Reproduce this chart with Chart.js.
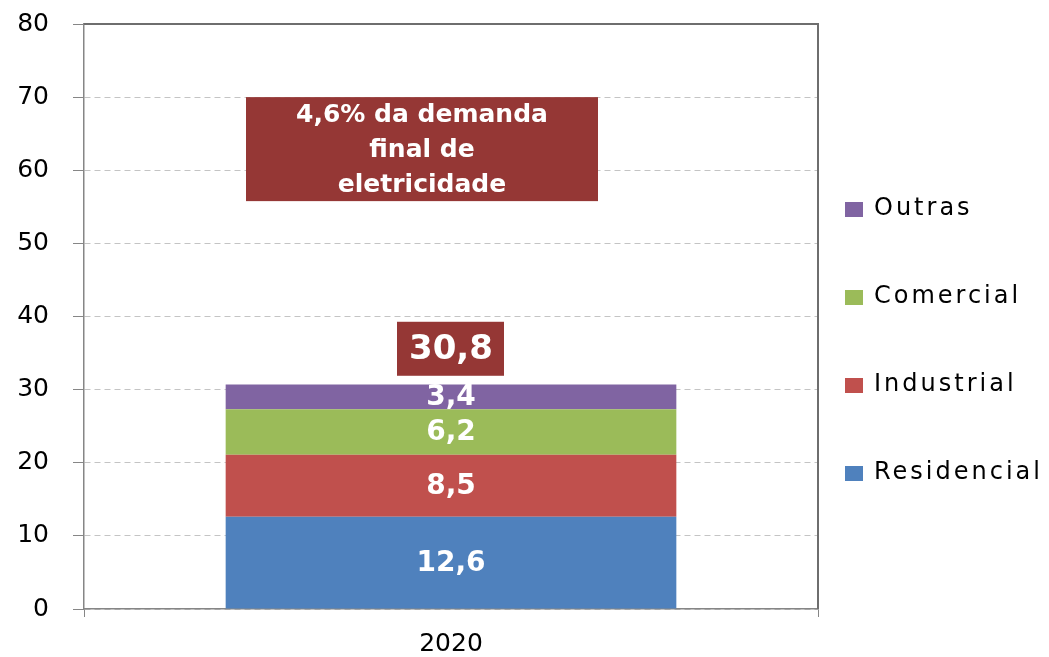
<!DOCTYPE html>
<html>
<head>
<meta charset="utf-8">
<script src="https://cdn.jsdelivr.net/npm/chart.js@4/dist/chart.umd.min.js"></script>
<style>
    html, body { margin: 0; padding: 0; background: #fff; }
    #wrap { width: 1049px; height: 657px; }
</style>
</head>
<body>
<div id="wrap"><canvas id="demandChart" width="1049" height="657"></canvas></div>
<script>
// Demanda de eletricidade por setor, 2020
const categories = ['2020'];
const residencial = [12.6];
const industrial = [8.5];
const comercial = [6.2];
const outras = [3.4];
const totals = [30.8];
const noteLines = ['4,6% da demanda', 'final de', 'eletricidade'];
const yMin = 0;
const yMax = 80;
const yStep = 10;

const fmt = v => v.toFixed(1).replace('.', ',');

// white value labels inside each stacked segment
const segmentLabels = {
    id: 'segmentLabels',
    afterDatasetsDraw(chart) {
        const ctx = chart.ctx;
        ctx.save();
        ctx.fillStyle = '#ffffff';
        ctx.font = 'bold 28px "DejaVu Sans"';
        ctx.textAlign = 'center';
        ctx.textBaseline = 'middle';
        chart.data.datasets.forEach((ds, i) => {
            chart.getDatasetMeta(i).data.forEach((bar, j) => {
                ctx.fillText(fmt(ds.data[j]), bar.x, (bar.y + bar.base) / 2 + 1);
            });
        });
        ctx.restore();
    }
};

// total box above the stack + the note box
const boxes = {
    id: 'boxes',
    afterDatasetsDraw(chart) {
        const ctx = chart.ctx;
        const y = chart.scales.y;
        const meta = chart.getDatasetMeta(chart.data.datasets.length - 1);
        ctx.save();
        ctx.textAlign = 'center';
        ctx.textBaseline = 'middle';
        totals.forEach((t, j) => {
            const x = meta.data[j].x;
            const bottom = y.getPixelForValue(t) - 8;
            ctx.fillStyle = '#953735';
            ctx.fillRect(x - 54, bottom - 54, 107, 54);
            ctx.fillStyle = '#ffffff';
            ctx.font = 'bold 34px "DejaVu Sans"';
            ctx.fillText(fmt(t), x, bottom - 26);

            const top = y.getPixelForValue(70);
            ctx.fillStyle = '#953735';
            ctx.fillRect(x - 205, top, 352, 104);
            ctx.fillStyle = '#ffffff';
            ctx.font = 'bold 25px "DejaVu Sans"';
            noteLines.forEach((line, k) => {
                ctx.fillText(line, x - 29, top + 18 + k * 35);
            });
        });
        ctx.restore();
    }
};

// top and right frame of the plot area
const frame = {
    id: 'frame',
    afterDraw(chart) {
        const { ctx, chartArea: a } = chart;
        ctx.save();
        ctx.strokeStyle = '#6e6e6e';
        ctx.lineWidth = 2;
        ctx.beginPath();
        ctx.moveTo(a.left, a.top);
        ctx.lineTo(a.right, a.top);
        ctx.lineTo(a.right, a.bottom);
        ctx.stroke();
        ctx.restore();
    }
};

// legend on the right, top series first
const sideLegend = {
    id: 'sideLegend',
    afterDraw(chart) {
        const { ctx, chartArea: a } = chart;
        const ds = chart.data.datasets;
        ctx.save();
        ctx.font = '24px "DejaVu Sans"';
        ctx.textBaseline = 'middle';
        ctx.letterSpacing = '3px';
        for (let k = 0; k < ds.length; k++) {
            const d = ds[ds.length - 1 - k];
            const cy = a.top + 185 + k * 88;
            ctx.fillStyle = d.backgroundColor;
            ctx.fillRect(a.right + 27, cy - 7, 18, 15);
            ctx.fillStyle = '#000000';
            ctx.fillText(d.label, a.right + 56, cy);
        }
        ctx.restore();
    }
};

const ctx = document.getElementById('demandChart');
new Chart(ctx, {
    type: 'bar',
    data: {
        labels: categories,
        datasets: [
            { label: 'Residencial', data: residencial, backgroundColor: '#4F81BD' },
            { label: 'Industrial', data: industrial, backgroundColor: '#C0504D' },
            { label: 'Comercial', data: comercial, backgroundColor: '#9BBB59' },
            { label: 'Outras', data: outras, backgroundColor: '#8064A2' }
        ]
    },
    options: {
        responsive: false,
        animation: false,
        layout: {
            padding: { top: 24, right: 231, left: 0, bottom: 0 }
        },
        datasets: {
            bar: {
                barPercentage: 1,
                categoryPercentage: 0.614,
                borderWidth: 0
            }
        },
        plugins: {
            legend: { display: false },
            tooltip: { enabled: false }
        },
        scales: {
            x: {
                stacked: true,
                afterFit: scale => { scale.height = 48; },
                grid: {
                    offset: true,
                    drawOnChartArea: false,
                    color: '#868686',
                    tickLength: 8
                },
                border: { color: '#868686', width: 1.5 },
                ticks: {
                    padding: 12,
                    color: '#000000',
                    font: { size: 25, family: "'DejaVu Sans', sans-serif" }
                }
            },
            y: {
                stacked: true,
                min: yMin,
                max: yMax,
                afterFit: scale => {
                    scale.width = 84;
                    scale.paddingTop = 0;
                    scale.paddingBottom = 0;
                },
                grid: {
                    color: '#c4c4c4',
                    tickColor: '#868686',
                    tickLength: 11
                },
                border: { color: '#868686', width: 1.5, dash: [6, 4] },
                ticks: {
                    stepSize: yStep,
                    padding: 24,
                    color: '#000000',
                    font: { size: 25, family: "'DejaVu Sans', sans-serif" }
                }
            }
        }
    },
    plugins: [segmentLabels, boxes, frame, sideLegend]
});
</script>
</body>
</html>
